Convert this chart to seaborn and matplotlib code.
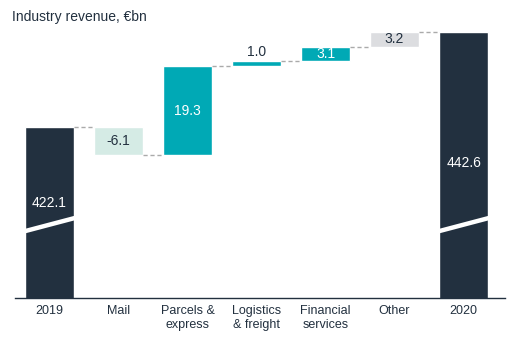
import matplotlib
matplotlib.use("Agg")
import matplotlib.pyplot as plt
import seaborn as sns
import pandas as pd
import numpy as np

categories = ["2019", "Mail", "Parcels &\nexpress", "Logistics\n& freight", "Financial\nservices", "Other", "2020"]
values = [422.1, -6.1, 19.3, 1.0, 3.1, 3.2, 442.6]
kinds = ["total", "neg", "pos", "pos", "pos", "other", "total"]
labels = ["422.1", "-6.1", "19.3", "1.0", "3.1", "3.2", "442.6"]

NAVY = "#22303f"
TEAL = "#00a9b5"
MINT = "#d5ebe5"
GREY = "#dcdde0"
colors = {"total": NAVY, "neg": MINT, "pos": TEAL, "other": GREY}

# compute bottoms/tops
bottoms, tops = [], []
running = 0.0
for v, k in zip(values, kinds):
    if k == "total":
        bottoms.append(0.0); tops.append(v); running = v
    else:
        new = running + v
        bottoms.append(min(running, new)); tops.append(max(running, new)); running = new

df = pd.DataFrame({"cat": categories, "height": [t - b for t, b in zip(tops, bottoms)]})

sns.set_style("white")
plt.rcParams['font.family'] = ['Liberation Sans', 'DejaVu Sans']

fig = plt.figure(figsize=(5.3, 3.45), dpi=100)
ax = fig.add_axes([15/530, 47/345, 490/530, (298-25)/345])

pal = [colors[k] for k in kinds]
sns.barplot(data=df, x="cat", y="height", hue="cat", palette=pal, legend=False,
            width=0.72, ax=ax, saturation=1)

for cont, b in zip(ax.containers, bottoms):
    for p in cont:
        p.set_y(b)

ylow = 422.1 - 171/4.63
ax.set_ylim(ylow, 442.6 + 7/4.63)
ax.set_xlim(-0.5, 6.6)

hw = 0.36
# connectors
for i in range(len(categories) - 1):
    if kinds[i] == "total":
        level = tops[i]
    else:
        level = tops[i] if values[i] >= 0 else bottoms[i]
    ax.plot([i + hw, i + 1 - hw], [level, level], color="#aaaaaa", lw=1.0,
            ls=(0, (3, 2)), zorder=1)

# labels
brk = 401.0
total_label_offset = {0: 4.7, 6: 13.3}  # above break
for i, (lab, k) in enumerate(zip(labels, kinds)):
    if k == "total":
        ax.text(i, brk + total_label_offset[i], lab, ha="center", va="center",
                color="white", fontsize=10)
    elif abs(values[i]) < 2:
        ax.text(i, tops[i] + 0.5, lab, ha="center", va="bottom", color=NAVY, fontsize=10)
    else:
        c = "white" if k == "pos" else NAVY
        ax.text(i, (tops[i] + bottoms[i]) / 2, lab, ha="center", va="center", color=c, fontsize=10)

# break marks
for i, k in enumerate(kinds):
    if k == "total":
        ax.plot([i - 0.42, i + 0.42], [brk - 1.65, brk + 1.65], color="white", lw=3.2,
                solid_capstyle="butt", zorder=5)

sns.despine(ax=ax, left=True)
ax.spines["bottom"].set_color(NAVY)
ax.spines["bottom"].set_linewidth(1.0)
ax.set_yticks([])
ax.set_xlabel("")
ax.set_ylabel("")
ax.tick_params(axis="x", length=0, pad=5, labelsize=9, labelcolor=NAVY)

fig.text(12/530, 1 - 17/345, "Industry revenue, €bn", ha="left", va="center",
         fontsize=10, color=NAVY)

fig.savefig("out.png", dpi=100)
